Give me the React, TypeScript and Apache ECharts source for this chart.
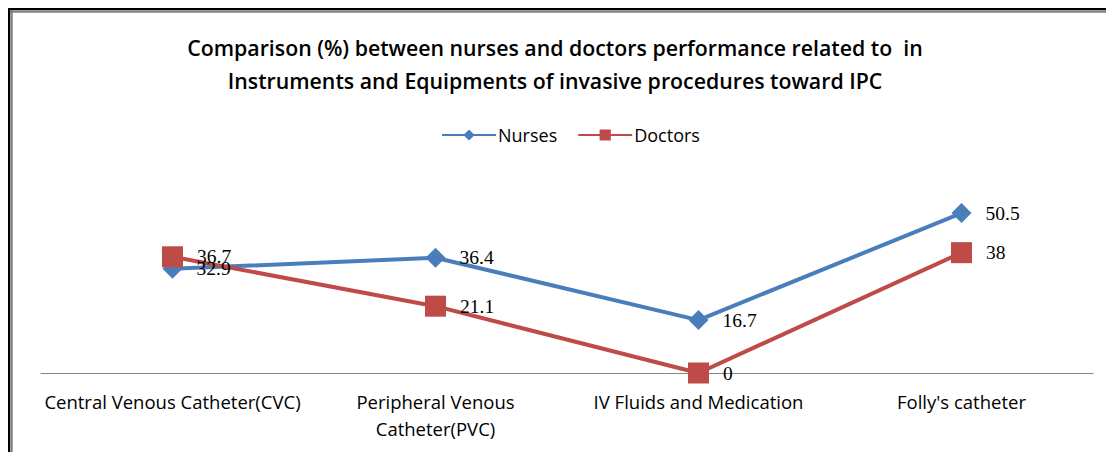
import React, { useEffect, useRef } from "react";
import * as echarts from "echarts";

const categories = [
  "Central Venous Catheter(CVC)",
  "Peripheral Venous Catheter(PVC)",
  "IV Fluids and Medication",
  "Folly's catheter",
];
const nurses = [32.9, 36.4, 16.7, 50.5];
const doctors = [36.7, 21.1, 0, 38];
const titleLines = [
  "Comparison (%) between nurses and doctors performance related to  in",
  "Instruments and Equipments of invasive procedures toward IPC",
];

export default function App() {
  const ref = useRef<HTMLDivElement>(null);
  useEffect(() => {
    document.body.style.margin = "0";
    const chart = echarts.init(ref.current!, null, { renderer: "svg" });
    const labelStyle = {
      show: true,
      position: "right" as const,
      distance: 14,
      fontFamily: "Liberation Serif",
      fontSize: 19.5,
      color: "#000",
    };
    chart.setOption({
      animation: false,
      backgroundColor: "#fff",
      title: {
        text: titleLines.join("\n"),
        left: 550,
        textAlign: "center",
        top: 26,
        textStyle: {
          fontFamily: "Open Sans",
          fontWeight: 600,
          fontSize: 21.3,
          lineHeight: 33,
          color: "#000",
        },
      },
      legend: {
        top: 121,
        left: 436,
        itemWidth: 54,
        itemHeight: 14,
        itemGap: 20,
        textStyle: { fontFamily: "Open Sans", fontSize: 18, color: "#000", padding: [0, 0, 0, -3] },
        data: ["Nurses", "Doctors"],
      },
      graphic: [
        { type: "line", shape: { x1: 9, y1: 8, x2: 9, y2: 452 }, style: { stroke: "#000", lineWidth: 2 } },
        { type: "line", shape: { x1: 8, y1: 9, x2: 1106, y2: 9 }, style: { stroke: "#000", lineWidth: 2 } },
        { type: "line", shape: { x1: 11.5, y1: 10, x2: 11.5, y2: 452 }, style: { stroke: "#808080", lineWidth: 2.5 } },
        { type: "line", shape: { x1: 10, y1: 11.5, x2: 1106, y2: 11.5 }, style: { stroke: "#808080", lineWidth: 2.5 } },
      ],
      grid: { left: 41, right: 13, top: 183, bottom: 79 },
      xAxis: {
        type: "category",
        data: categories,
        boundaryGap: true,
        axisLine: { lineStyle: { color: "#868686", width: 1 } },
        axisTick: { show: false },
        axisLabel: {
          interval: 0,
          margin: 15,
          fontFamily: "Open Sans",
          fontSize: 18.5,
          lineHeight: 27,
          color: "#000",
          formatter: (v: string) =>
            v === "Peripheral Venous Catheter(PVC)" ? "Peripheral Venous\nCatheter(PVC)" : v,
        },
      },
      yAxis: {
        type: "value",
        min: 0,
        max: 60,
        show: false,
        splitLine: { show: false },
      },
      series: [
        {
          name: "Nurses",
          type: "line",
          data: nurses,
          symbol: "diamond",
          symbolSize: 20,
          lineStyle: { color: "#4A7EBB", width: 4 },
          itemStyle: { color: "#4A7EBB" },
          label: labelStyle,
        },
        {
          name: "Doctors",
          type: "line",
          data: doctors,
          symbol: "rect",
          symbolSize: 21,
          lineStyle: { color: "#BE4B48", width: 4 },
          itemStyle: { color: "#BE4B48" },
          label: labelStyle,
        },
      ],
    });
    return () => chart.dispose();
  }, []);
  return <div ref={ref} style={{ width: 1106, height: 452 }} />;
}
